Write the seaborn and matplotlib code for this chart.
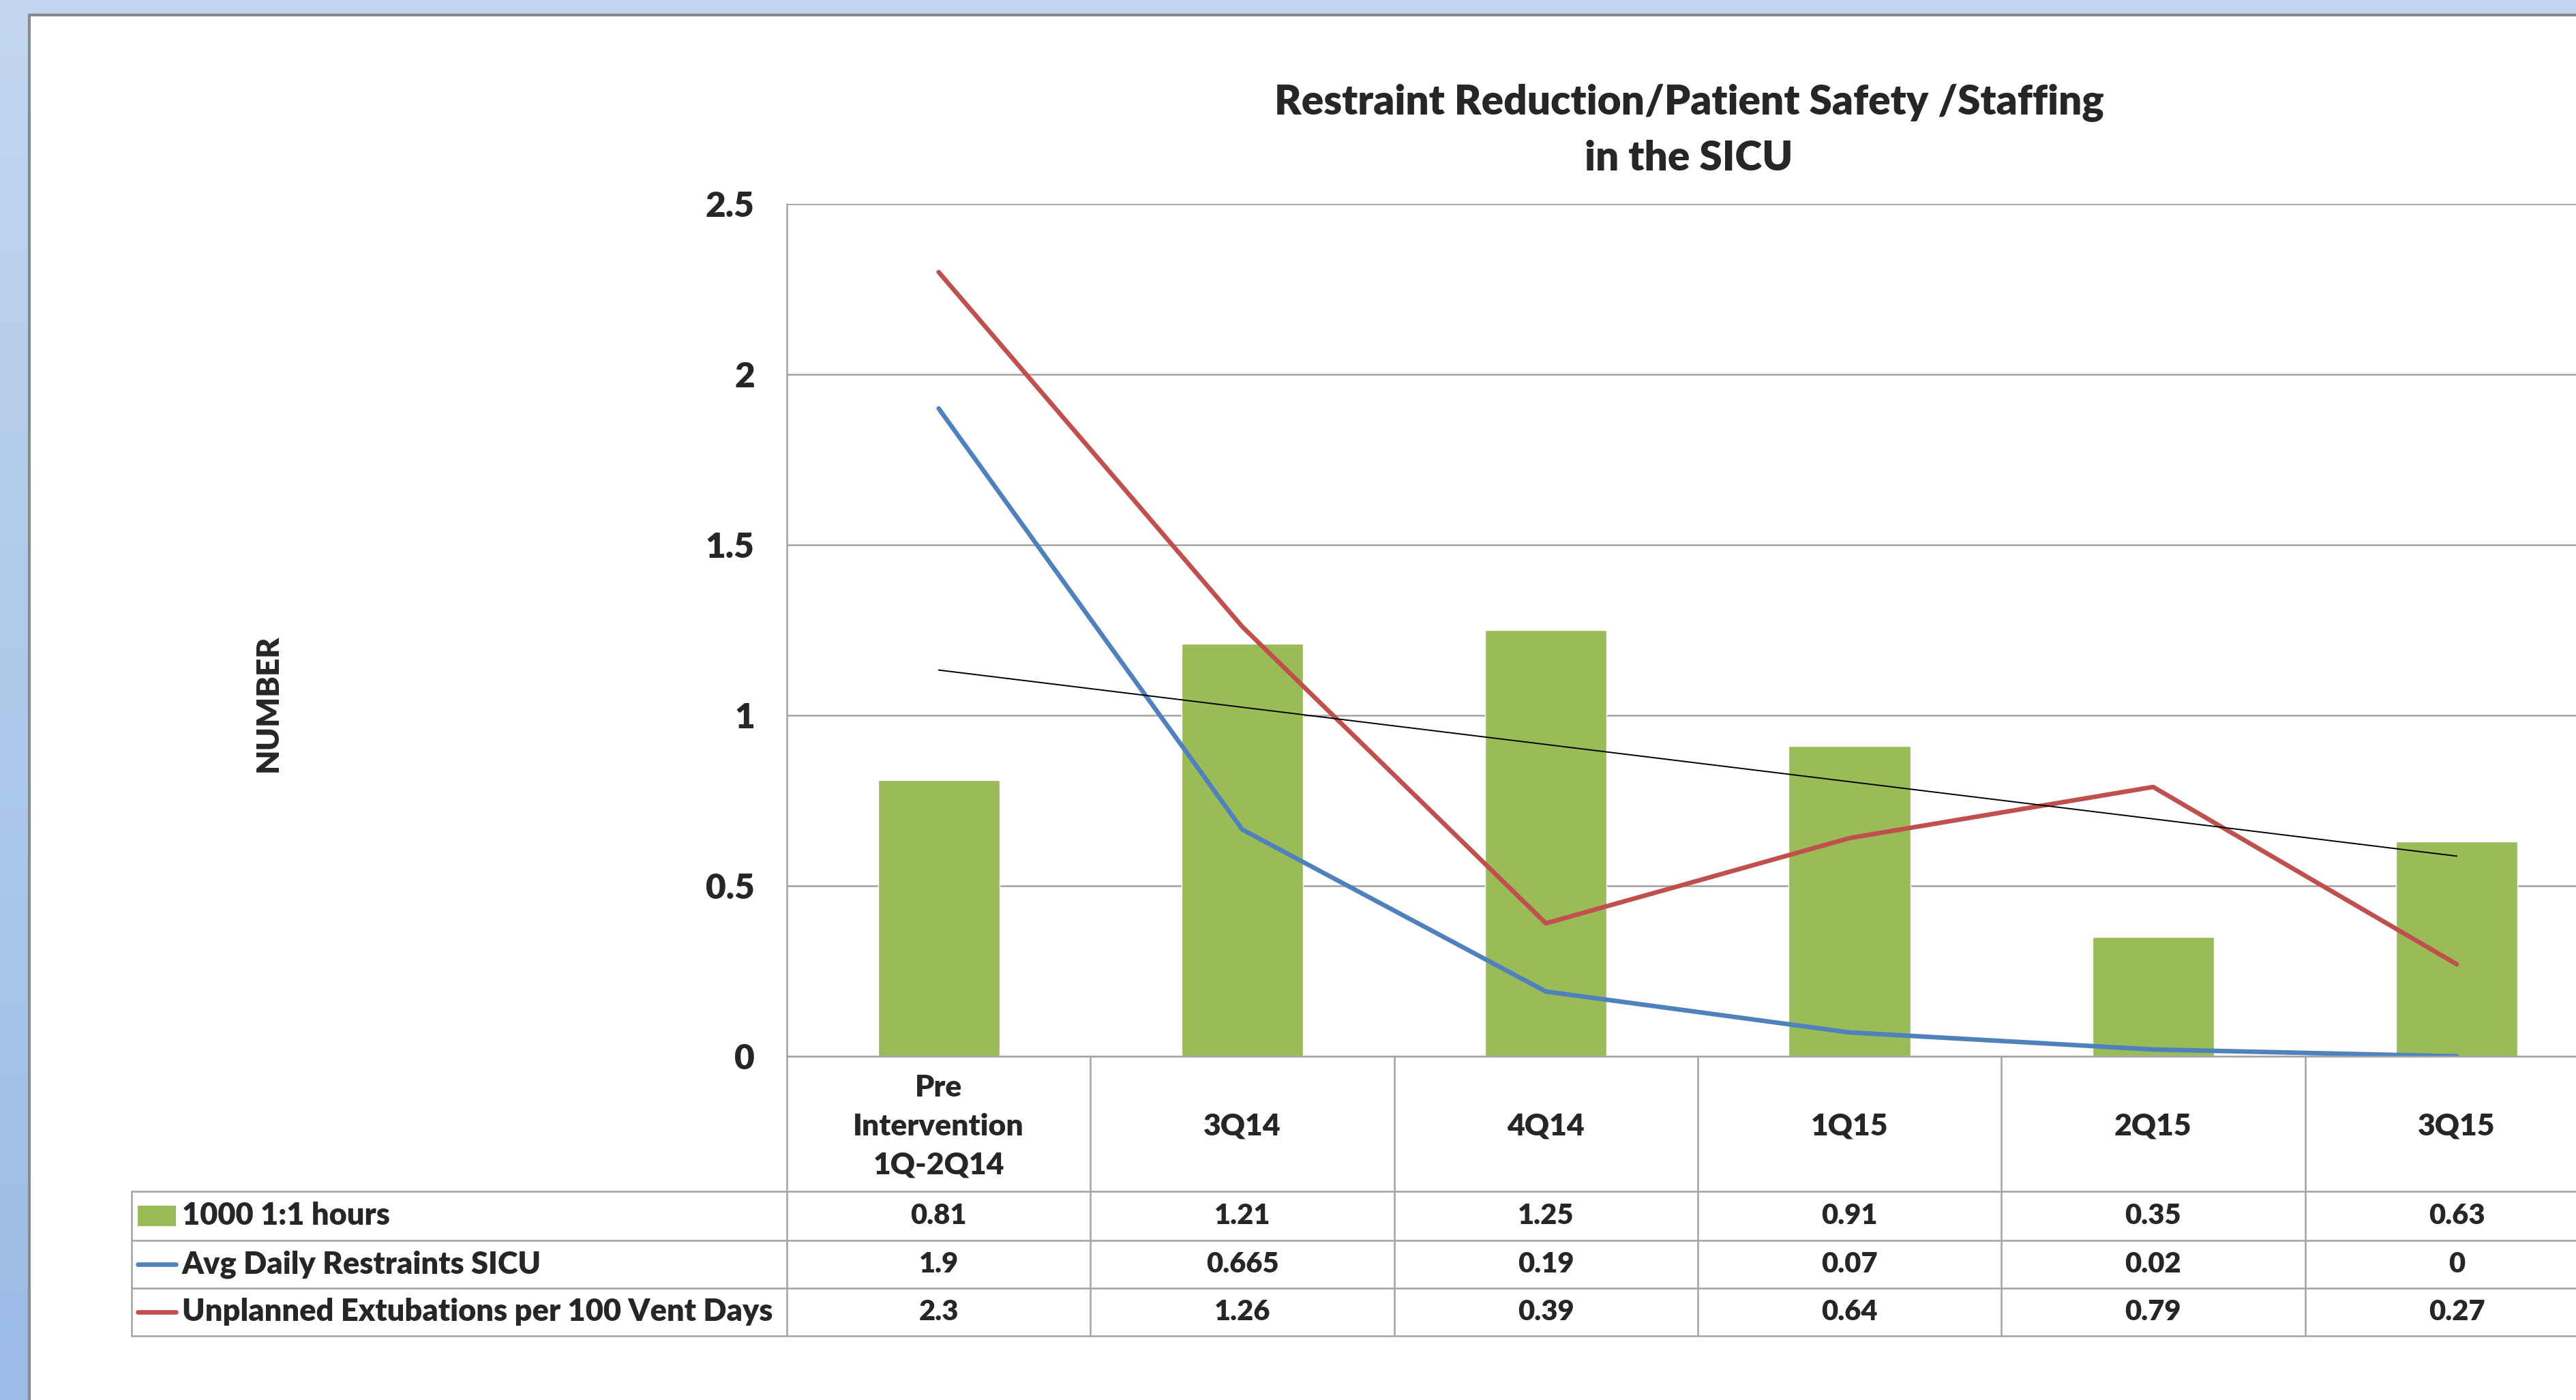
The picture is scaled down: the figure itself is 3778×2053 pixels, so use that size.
import numpy as np
import pandas as pd
import seaborn as sns
import matplotlib.pyplot as plt
from matplotlib.patches import Rectangle
from matplotlib.lines import Line2D
from matplotlib.colors import LinearSegmentedColormap

# --- data ---
categories = ["Pre\nIntervention\n1Q-2Q14", "3Q14", "4Q14", "1Q15", "2Q15", "3Q15"]
hours_1to1 = [0.81, 1.21, 1.25, 0.91, 0.35, 0.63]
restraints = [1.9, 0.665, 0.19, 0.07, 0.02, 0]
extubations = [2.3, 1.26, 0.39, 0.64, 0.79, 0.27]
series_names = ["1000 1:1 hours", "Avg Daily Restraints SICU",
                "Unplanned Extubations per 100 Vent Days"]
y_ticks = [0, 0.5, 1, 1.5, 2, 2.5]
title = "Restraint Reduction/Patient Safety /Staffing\nin the SICU"

GREEN, BLUE, RED = "#9BBB59", "#4F81BD", "#C0504D"
GRID = "#A3A3A3"
WEIGHT = "heavy"

sns.set_theme(style="white")
plt.rcParams["font.family"] = ["Lato", "DejaVu Sans"]
plt.rcParams["font.weight"] = WEIGHT

W, H = 3778, 2053
fig = plt.figure(figsize=(W / 100, H / 100), dpi=100)


def fx(px):
    return px / W


def fy(py):
    return 1 - py / H


# blue window frame + white panel
bg = fig.add_axes([0, 0, 1, 1], zorder=-10)
bg.axis("off")
cmap = LinearSegmentedColormap.from_list("frame", ["#C2D6EF", "#9BBCE6"])
bg.imshow(np.linspace(0, 1, 256).reshape(-1, 1), cmap=cmap, aspect="auto",
          extent=[0, 1, 0, 1])
bg.set_xlim(0, 1)
bg.set_ylim(0, 1)
panel_x, panel_y = 43, 22
fig.add_artist(Rectangle((fx(panel_x), 0), 1, fy(panel_y), transform=fig.transFigure,
                         facecolor="white", edgecolor="none", zorder=-5))
fig.add_artist(Line2D([fx(panel_x), 1], [fy(panel_y), fy(panel_y)], transform=fig.transFigure,
                      color="#8A8A8A", lw=3, zorder=-4))
fig.add_artist(Line2D([fx(panel_x), fx(panel_x)], [0, fy(panel_y)], transform=fig.transFigure,
                      color="#8A8A8A", lw=3, zorder=-4))

# plot area geometry (pixels, from top-left)
ax_left, ax_top, ax_bottom = 1154, 299, 1549
col_w = 445.3
ax_right = ax_left + 6 * col_w
ax = fig.add_axes([fx(ax_left), fy(ax_bottom), fx(ax_right - ax_left), (ax_bottom - ax_top) / H])

df = pd.DataFrame({"period": categories, "hours": hours_1to1,
                   "restraints": restraints, "extubations": extubations})

sns.barplot(data=df, x="period", y="hours", color=GREEN, saturation=1, width=0.4,
            ax=ax, zorder=2)
sns.lineplot(data=df, x="period", y="restraints", color=BLUE, lw=4.8, sort=False,
             ax=ax, zorder=3)
sns.lineplot(data=df, x="period", y="extubations", color=RED, lw=4.8, sort=False,
             ax=ax, zorder=3)

# linear trendline of the bar series
coef = np.polyfit(np.arange(len(hours_1to1)), hours_1to1, 1)
trend_y = np.polyval(coef, [0, len(hours_1to1) - 1])
sns.lineplot(x=[categories[0], categories[-1]], y=trend_y, color="black", lw=1.4,
             sort=False, ax=ax, zorder=4)

ax.set_ylim(0, 2.5)
ax.set_xlim(-0.5, 5.5)
ax.set_yticks(y_ticks)
ax.set_yticklabels([f"{t:g}" for t in y_ticks], fontsize=37, fontweight=WEIGHT)
ax.tick_params(axis="y", length=0, pad=34)
ax.set_xticks([])
ax.set_xlabel("")
ax.set_ylabel("")
ax.grid(axis="y", color=GRID, lw=1.8, zorder=0)
ax.set_axisbelow(True)
for side in ["top", "right", "bottom"]:
    ax.spines[side].set_visible(False)
ax.spines["left"].set_color(GRID)
ax.spines["left"].set_linewidth(1.8)
ax.set_facecolor("none")

fig.text(fx(2477), fy(191), title, ha="center", va="center", fontsize=43.5,
         fontweight=WEIGHT, linespacing=1.58)
fig.text(fx(393), fy(1031), "NUMBER", rotation=90, ha="center", va="center",
         fontsize=33, fontweight=WEIGHT)

# --- data table under the axis ---
row_edges = [1747, 1819, 1889, 1959]
legend_left = 193


def hline(y, x0, x1):
    fig.add_artist(Line2D([fx(x0), fx(x1)], [fy(y), fy(y)], transform=fig.transFigure,
                          color=GRID, lw=1.8))


def vline(x, y0, y1):
    fig.add_artist(Line2D([fx(x), fx(x)], [fy(y0), fy(y1)], transform=fig.transFigure,
                          color=GRID, lw=1.8))


hline(ax_bottom, ax_left, ax_right)
for y in row_edges:
    hline(y, legend_left, ax_right)
for i in range(7):
    vline(ax_left + i * col_w, ax_bottom, row_edges[-1])
vline(legend_left, row_edges[0], row_edges[-1])

for i, cat in enumerate(categories):
    cx = ax_left + (i + 0.5) * col_w
    fig.text(fx(cx), fy((ax_bottom + row_edges[0]) / 2 + 4), cat, ha="center", va="center",
             fontsize=32, fontweight=WEIGHT, linespacing=1.5, multialignment="center")

series = [hours_1to1, restraints, extubations]
colors = [GREEN, BLUE, RED]
for r, (name, vals, c) in enumerate(zip(series_names, series, colors)):
    y_mid = (row_edges[r] + row_edges[r + 1]) / 2
    if r == 0:
        fig.add_artist(Rectangle((fx(202), fy(y_mid + 15)), fx(56), 30 / H,
                                 transform=fig.transFigure, facecolor=c, edgecolor="none"))
    else:
        fig.add_artist(Line2D([fx(202), fx(258)], [fy(y_mid), fy(y_mid)],
                              transform=fig.transFigure, color=c, lw=4.8))
    fig.text(fx(267), fy(y_mid), name, ha="left", va="center", fontsize=32.5,
             fontweight=WEIGHT)
    for i, v in enumerate(vals):
        cx = ax_left + (i + 0.5) * col_w
        fig.text(fx(cx), fy(y_mid), f"{v:g}", ha="center", va="center", fontsize=30,
                 fontweight=WEIGHT)

fig.savefig("out.png", dpi=100)
